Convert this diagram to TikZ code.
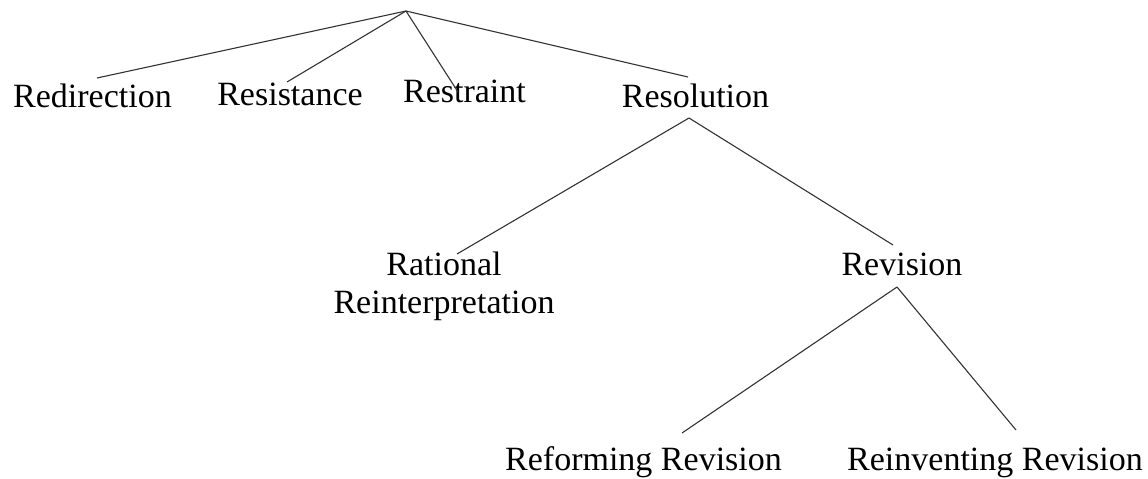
\documentclass[tikz,border=0pt]{standalone}
\usepackage{fontspec}
\setmainfont{Liberation Serif}
\begin{document}
\begin{tikzpicture}[x=1pt,y=-1pt,
  lbl/.style={font=\fontsize{34}{38}\selectfont, inner sep=0pt, anchor=base, text=black},
  edge/.style={draw=black!80, line width=1.1pt}]
\useasboundingbox[fill=white] (0,0) rectangle (1148,479);
% labels
\node[lbl] (redir) at (92.5,107) {Redirection};
\node[lbl] (resist) at (290,105) {Resistance};
\node[lbl] (restr) at (464.5,102) {Restraint};
\node[lbl] (resol) at (695.5,107) {Resolution};
\node[lbl, align=center] (ratio) at (444,313) {Rational\\Reinterpretation};
\node[lbl] (revis) at (902,275) {Revision};
\node[lbl] (reform) at (643.5,470) {Reforming Revision};
\node[lbl] (reinv) at (995,470) {Reinventing Revision};
% connector points
\coordinate (root) at (406,11);
\coordinate (redir-t) at (97,78);
\coordinate (resist-t) at (287,82);
\coordinate (restr-t) at (458,92);
\coordinate (resol-t) at (688,77);
\coordinate (resol-b) at (689,118);
\coordinate (ratio-t) at (457,254);
\coordinate (revis-t) at (893,245);
\coordinate (revis-b) at (897,287);
\coordinate (reform-t) at (682,433);
\coordinate (reinv-t) at (1016,430);
% connectors
\draw[edge] (root) -- (redir-t);
\draw[edge] (root) -- (resist-t);
\draw[edge] (root) -- (restr-t);
\draw[edge] (root) -- (resol-t);
\draw[edge] (resol-b) -- (ratio-t);
\draw[edge] (resol-b) -- (revis-t);
\draw[edge] (revis-b) -- (reform-t);
\draw[edge] (revis-b) -- (reinv-t);
\end{tikzpicture}
\end{document}
